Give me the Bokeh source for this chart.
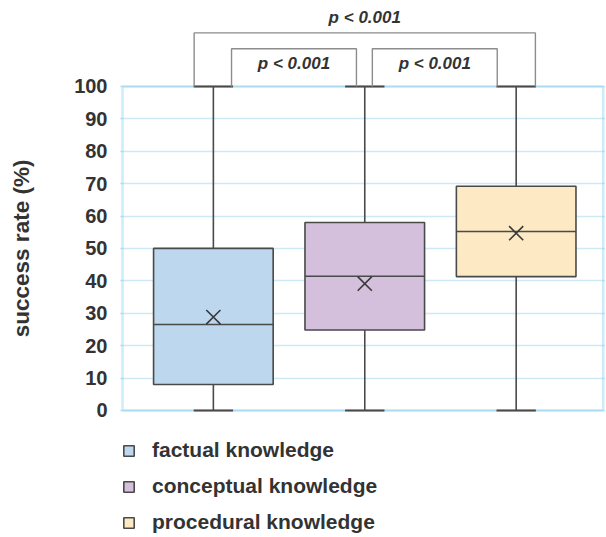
import numpy as np
from bokeh.plotting import figure
from bokeh.layouts import row
from bokeh.models import Range1d, FixedTicker, BoxAnnotation, Legend, LegendItem
from bokeh.core.properties import value
from bokeh.embed import file_html
from bokeh.resources import INLINE

# ---- data ----
categories = ["factual knowledge", "conceptual knowledge", "procedural knowledge"]
minimum = [0, 0, 0]
q1 = [8.0, 24.8, 41.3]
median = [26.5, 41.4, 55.2]
q3 = [50.0, 58.0, 69.2]
maximum = [100, 100, 100]
mean = [28.8, 39.1, 54.7]
colors = ["#bdd7ee", "#d4bfdd", "#fde9c3"]
y_ticks = [0, 10, 20, 30, 40, 50, 60, 70, 80, 90, 100]
y_title = "success rate (%)"
comparisons = [(0, 2), (0, 1), (1, 2)]
p_labels = ["p < 0.001", "p < 0.001", "p < 0.001"]

FONT = "Liberation Sans"
TXT = "#333333"
LINE = "#4a4a4a"

xs = np.arange(1, len(categories) + 1, dtype=float)
box_w = 0.79
cap_w = 0.26
H = 536
TITLE_W = 40
LEFT = 119 - TITLE_W
y_range = Range1d(-38.9, 126.5)

# narrow strip that carries the y-axis title
t = figure(width=TITLE_W, height=H, output_backend="svg", toolbar_location=None,
           x_range=Range1d(0, TITLE_W), y_range=y_range,
           min_border_left=0, min_border_right=0, min_border_top=0, min_border_bottom=0)
t.axis.visible = False
t.grid.visible = False
t.outline_line_color = None
t.text(x=[21], y=[(y_ticks[0] + y_ticks[-1]) / 2], text=[y_title], angle=np.pi / 2,
       text_align="center", text_baseline="middle", text_font=value(FONT),
       text_font_style="bold", text_font_size="22.5px", text_color=TXT)

p = figure(width=LEFT + 486, height=H, output_backend="svg", toolbar_location=None,
           x_range=Range1d(0.38, 3.59), y_range=y_range,
           min_border_left=LEFT, min_border_right=0, min_border_top=0, min_border_bottom=0)
p.outline_line_color = None
p.background_fill_color = "white"
p.xaxis.visible = False
p.xgrid.visible = False

yax = p.yaxis[0]
yax.ticker = FixedTicker(ticks=y_ticks)
yax.axis_line_color = None
yax.major_tick_line_color = None
yax.minor_tick_line_color = None
yax.major_tick_out = 0
yax.major_tick_in = 0
yax.major_label_standoff = 12
yax.major_label_text_font = FONT
yax.major_label_text_font_style = "bold"
yax.major_label_text_font_size = "20px"
yax.major_label_text_color = TXT

p.ygrid.grid_line_color = "#cde9f6"
p.ygrid.grid_line_width = 1.3

frame_box = BoxAnnotation(left=0.4, right=3.575, bottom=y_ticks[0], top=y_ticks[-1],
                          fill_alpha=0, line_color="#5bc0eb", line_width=2.5,
                          level="underlay")
p.add_layout(frame_box)

items = []
for i, cat in enumerate(categories):
    x = xs[i]
    p.segment(x0=[x, x], x1=[x, x], y0=[q3[i], minimum[i]], y1=[maximum[i], q1[i]],
              line_color=LINE, line_width=1.6)
    p.segment(x0=[x - cap_w / 2] * 2, x1=[x + cap_w / 2] * 2,
              y0=[minimum[i], maximum[i]], y1=[minimum[i], maximum[i]],
              line_color=LINE, line_width=2)
    r = p.vbar(x=[x], width=box_w, bottom=[q1[i]], top=[q3[i]],
               fill_color=colors[i], line_color=LINE, line_width=1.6)
    items.append(LegendItem(label=cat, renderers=[r]))
    p.segment(x0=[x - box_w / 2], x1=[x + box_w / 2], y0=[median[i]], y1=[median[i]],
              line_color=LINE, line_width=1.6)
    p.scatter(x=[x], y=[mean[i]], marker="x", size=20, line_color="#3a3a3a", line_width=1.6)

# significance brackets
b_xs, b_ys, t_x, t_y = [], [], [], []
top = y_ticks[-1]
for (a, b), lab in zip(comparisons, p_labels):
    if b - a > 1:
        left, right, h, ty = xs[a] - 0.127, xs[b] + 0.127, top + 16.5, top + 21.3
    elif a == 0:
        left, right, h, ty = xs[a] + 0.12, xs[b] - 0.055, top + 11.6, top + 7.1
    else:
        left, right, h, ty = xs[a] + 0.05, xs[b] - 0.125, top + 11.6, top + 7.1
    b_xs.append([left, left, right, right])
    b_ys.append([top, h, h, top])
    t_x.append((left + right) / 2)
    t_y.append(ty)
p.multi_line(xs=b_xs, ys=b_ys, line_color="#8c8c8c", line_width=1.4)
p.text(x=t_x, y=t_y, text=p_labels, text_font=value(FONT), text_font_style="bold italic",
       text_font_size="17px", text_color=TXT, text_align="center", text_baseline="middle")

legend = Legend(items=items, location=(3, 2), orientation="vertical",
                border_line_color=None, background_fill_alpha=0,
                padding=0, margin=0, spacing=12,
                glyph_width=13, glyph_height=13, label_standoff=17,
                label_height=24,
                label_text_font=FONT, label_text_font_style="bold",
                label_text_font_size="21px", label_text_color=TXT)
p.add_layout(legend)

layout = row(t, p)
open("out.html", "w").write(file_html(layout, INLINE))
